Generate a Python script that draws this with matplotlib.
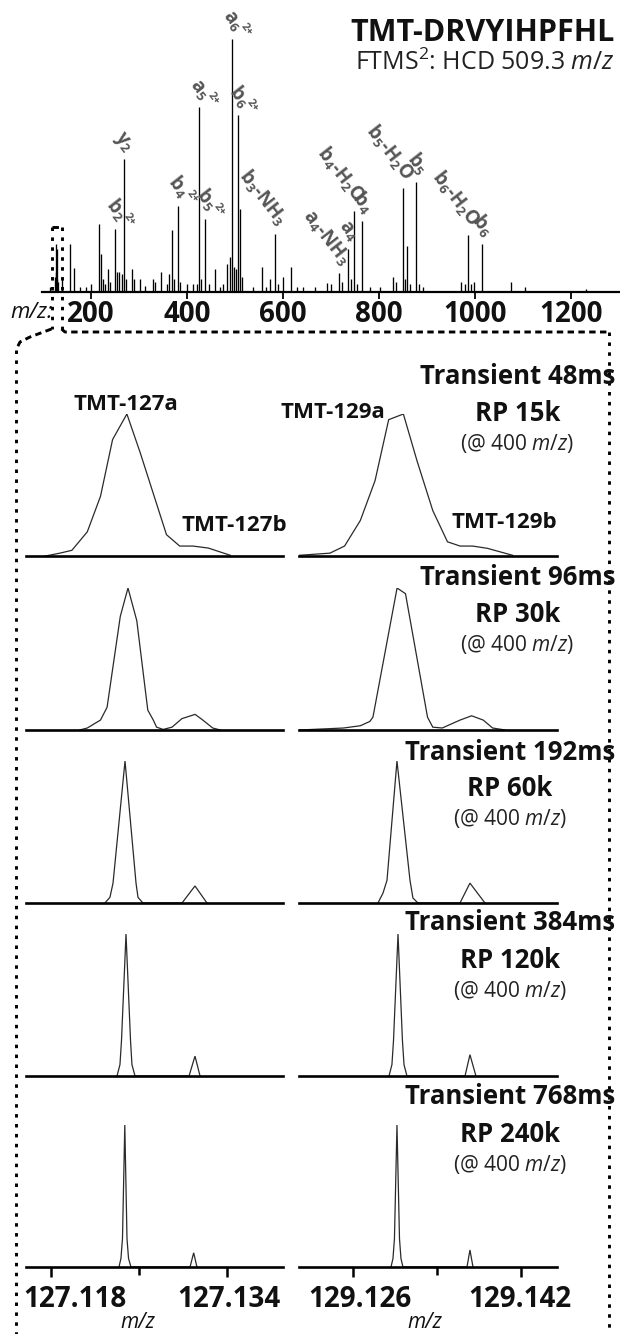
import matplotlib
matplotlib.use("Agg")
import matplotlib.pyplot as plt
from matplotlib import font_manager as fm

# ---------------- DATA ----------------
# Top MS2 spectrum (m/z, relative intensity %)
spec_mz = [115, 126.1, 127.1, 128.1, 129.1, 130.1, 131.1, 140, 156, 165, 178, 190, 201,
           217, 221, 226, 230, 235, 240, 251, 255, 259, 265, 269, 274, 285, 290, 302,
           313, 329, 333, 345, 358, 363, 368, 372, 381, 385, 399, 412, 420, 425, 429,
           438, 445, 458, 469, 474, 483, 490, 494, 498, 502, 507, 510, 514, 538, 556,
           564, 572, 583, 589, 601, 616, 629, 641, 667, 691, 701, 717, 722, 736, 742,
           747, 754, 764, 781, 802, 830, 835, 849, 854, 859, 865, 877, 884, 892, 970,
           979, 985, 991, 997, 1014, 1074, 1104, 1231]
spec_int = [2, 6, 19, 8, 17, 5, 4, 5, 19, 9.5, 2, 2, 3,
            27, 15, 5, 3, 9, 4, 25, 8, 8, 7, 52.6, 5, 9, 5, 5,
            2.5, 5, 4, 8, 3, 7, 24.5, 5, 34, 4, 3, 3, 3, 73, 5,
            29, 3, 9, 2, 3, 11, 14, 100, 10, 9, 70, 33, 6, 2, 10,
            2, 5, 23, 3, 6, 10, 2, 2, 2, 3.5, 3, 7.5, 4, 17, 5,
            32, 3, 28, 2, 2, 6, 4, 41, 5, 18, 3, 43.5, 3, 2, 4,
            3, 22.5, 3, 4, 19, 4, 2, 1]

frag_main = ["b$_2$", "y$_2$", "b$_4$", "a$_5$", "b$_5$", "a$_6$", "b$_6$", "b$_3$-NH$_3$",
             "a$_4$-NH$_3$", "a$_4$", "b$_4$-H$_2$O", "b$_4$", "b$_5$-H$_2$O", "b$_5$",
             "b$_6$-H$_2$O", "b$_6$"]
frag_charge = ["2+", "", "2+", "2+", "2+", "2+", "2+", "", "", "", "", "", "", "", "", ""]
frag_mz = [251, 269, 381, 425, 438, 494, 507, 583, 717, 736, 747, 764, 849, 877, 985, 1014]

top_ticks = [200, 400, 600, 800, 1000, 1200]

# Zoomed reporter-ion profiles (m/z, relative intensity %)
mz127_48 = [127.1175, 127.1188, 127.1199, 127.1213, 127.1225, 127.1236, 127.1249, 127.1261,
            127.1273, 127.1285, 127.1297, 127.1309, 127.1323, 127.1343]
in127_48 = [0, 2, 4, 17, 42, 82, 100, 73, 44, 15, 7, 7, 5.6, 0.5]
mz129_48 = [129.1209, 129.1238, 129.1252, 129.1267, 129.1281, 129.1294, 129.1308, 129.1321,
            129.1336, 129.1350, 129.1362, 129.1374, 129.1388, 129.1412]
in129_48 = [0.5, 2, 7, 25, 53, 96, 100, 67, 32, 10, 7, 7, 5.4, 0.5]

mz127_96 = [127.1206, 127.1213, 127.1225, 127.1231, 127.1243, 127.1250, 127.1258, 127.1268,
            127.1273, 127.1276, 127.1282, 127.1290, 127.1299, 127.1311, 127.1318, 127.1327,
            127.1334]
in127_96 = [0, 1.4, 7, 16, 80, 100, 77, 14, 7, 2, 0.4, 2, 8, 11, 7, 1.4, 0]
mz129_96 = [129.1209, 129.1251, 129.1267, 129.1276, 129.1279, 129.1302, 129.1310, 129.1331,
            129.1336, 129.1345, 129.1362, 129.1373, 129.1384, 129.1393, 129.1405]
in129_96 = [0, 1.4, 3, 6, 9, 100, 96, 9, 2, 1.4, 7, 10, 7, 1.4, 0]

mz127_192 = [127.1229, 127.12336, 127.12364, 127.12473, 127.12573, 127.12591, 127.12636,
             127.12991, 127.13109, 127.13218]
in127_192 = [0, 4, 14, 100, 14, 4, 0, 0, 12, 0]
mz129_192 = [129.12838, 129.12886, 129.12924, 129.13019, 129.13143, 129.13171, 129.13219,
             129.13619, 129.13714, 129.13857]
in129_192 = [0, 7, 16, 100, 16, 3.5, 0, 0, 14, 0]

mz127_384 = [127.12400, 127.12427, 127.12441, 127.12482, 127.12523, 127.12536, 127.12564,
             127.13055, 127.13109, 127.13155]
in127_384 = [0, 8, 25, 100, 25, 8, 0, 0, 14, 0]
mz129_384 = [129.12943, 129.12971, 129.12986, 129.13029, 129.13071, 129.13086, 129.13114,
             129.13667, 129.13714, 129.13771]
in129_384 = [0, 8, 25, 100, 25, 8, 0, 0, 15, 0]

mz127_768 = [127.12418, 127.12436, 127.12450, 127.12471, 127.12491, 127.12505, 127.12527,
             127.13064, 127.13097, 127.13127]
in127_768 = [0, 6, 20, 100, 20, 6, 0, 0, 10, 0]
mz129_768 = [129.12962, 129.12981, 129.12995, 129.13019, 129.13043, 129.13057, 129.13076,
             129.13686, 129.13714, 129.13743]
in129_768 = [0, 6, 20, 100, 20, 6, 0, 0, 12, 0]

transient_labels = ["Transient 48ms", "Transient 96ms", "Transient 192ms",
                    "Transient 384ms", "Transient 768ms"]
rp_labels = ["RP 15k", "RP 30k", "RP 60k", "RP 120k", "RP 240k"]

ticks127 = [127.118, 127.126, 127.134]
ticks129 = [129.126, 129.134, 129.142]
ticklab127 = ["127.118", "", "127.134"]
ticklab129 = ["129.126", "", "129.142"]

# ---------------- FONTS ----------------
def _w(f):
    w = f.weight
    if isinstance(w, str):
        w = fm.weight_dict.get(w, 400)
    return w

def has(name, weight, style="normal"):
    for f in fm.fontManager.ttflist:
        if f.name == name and f.style == style and abs(_w(f) - weight) < 100:
            return True
    return False

FAM = "Open Sans" if (has("Open Sans", 400) and has("Open Sans", 700)) else "Noto Sans"
ITF = next((n for n in ["Open Sans", "Noto Sans", "Lato", "Liberation Sans", "DejaVu Sans"]
            if has(n, 400, "italic")), "DejaVu Sans")

plt.rcParams["font.family"] = [FAM, "DejaVu Sans"]
plt.rcParams["mathtext.fontset"] = "custom"
plt.rcParams["mathtext.rm"] = FAM
plt.rcParams["mathtext.it"] = ITF + ":italic"
plt.rcParams["mathtext.bf"] = FAM + ":bold"
plt.rcParams["mathtext.default"] = "regular"

W, H = 620, 1334
fig = plt.figure(figsize=(W / 100, H / 100), dpi=100)
fig.patch.set_facecolor("white")


def fx(x):
    return x / W


def fy(y):
    return 1 - y / H


def ftext(x, y, s, **kw):
    return fig.text(fx(x), fy(y), s, **kw)


INK = "#111111"
LABC = "#555555"
ROT = -52

# ---------------- TOP SPECTRUM ----------------
ax = fig.add_axes([fx(42), fy(292), fx(620) - fx(42), fy(39) - fy(292)])
ax.vlines(spec_mz, 0, spec_int, color="black", lw=0.95)
ax.set_xlim(98, 1302)
ax.set_ylim(0, 100)
for s in ["left", "right", "top"]:
    ax.spines[s].set_visible(False)
ax.spines["bottom"].set_linewidth(1.6)
ax.set_yticks([])
ax.set_xticks(top_ticks)
ax.set_xticklabels([str(t) for t in top_ticks], fontsize=20, fontweight="bold", color=INK)
ax.tick_params(axis="x", direction="out", length=5, width=1.3, pad=1)
ax.patch.set_alpha(0)

lookup = dict(zip(spec_mz, spec_int))
for lab, ch, m in zip(frag_main, frag_charge, frag_mz):
    ax.annotate(lab, xy=(m, lookup[m]), xytext=(2, 5), textcoords="offset points",
                rotation=ROT, rotation_mode="anchor", ha="right", va="baseline",
                fontsize=13.5, fontweight="bold", color=LABC, annotation_clip=False)
    if ch:
        ax.annotate(ch, xy=(m, lookup[m]), xytext=(6, 9), textcoords="offset points",
                    rotation=ROT, rotation_mode="anchor", ha="left", va="baseline",
                    fontsize=8, fontweight="bold", color=LABC, annotation_clip=False)

ftext(615, 33, "TMT-DRVYIHPFHL", fontsize=22, fontweight="bold", ha="right", va="center",
      color=INK)
ftext(615, 63, r"FTMS$^2$: HCD 509.3 $\mathit{m/z}$", fontsize=18, ha="right", va="center",
      color="#222222")
ftext(53, 312, "m/z:", fontsize=16, fontstyle="italic", family=[ITF, "DejaVu Sans"],
      ha="right", va="center", color=INK)

# ---------------- DASHED CONNECTOR BOX ----------------
ov = fig.add_axes([0, 0, 1, 1])
ov.set_xlim(0, W)
ov.set_ylim(H, 0)
ov.axis("off")
vstyle = dict(color="black", lw=2.1, dashes=(1.2, 2.2), dash_capstyle="butt")
hstyle = dict(color="black", lw=2.1, dashes=(2.2, 1.5), dash_capstyle="butt")
ov.plot([51.5, 51.5], [227, 329], **vstyle)
ov.plot([51.5, 30, 20, 16], [329, 337, 342, 350], **hstyle)
ov.plot([16, 16], [350, 1334], **vstyle)
ov.plot([61.5, 61.5], [227, 329], **vstyle)
ov.plot([61.5, 65, 609], [329, 332, 332], **hstyle)
ov.plot([609, 609], [332, 1334], **vstyle)
ov.plot([51.5, 61.5], [227, 227], **hstyle)

# ---------------- ZOOMED PANELS ----------------
rows_127 = [(mz127_48, in127_48), (mz127_96, in127_96), (mz127_192, in127_192),
            (mz127_384, in127_384), (mz127_768, in127_768)]
rows_129 = [(mz129_48, in129_48), (mz129_96, in129_96), (mz129_192, in129_192),
            (mz129_384, in129_384), (mz129_768, in129_768)]
baselines = [556, 730, 903, 1076, 1267]
peak_h = 142
left_px = (26, 283)
right_px = (299, 557)
xlim127 = (127.11573, 127.13909)
xlim129 = (129.12086, 129.14543)

bottom_axes = []
for i in range(5):
    for (x0, x1), (mz, inten), xl in [(left_px, rows_127[i], xlim127),
                                       (right_px, rows_129[i], xlim129)]:
        a = fig.add_axes([fx(x0), fy(baselines[i]), fx(x1) - fx(x0),
                          fy(baselines[i] - peak_h) - fy(baselines[i])])
        a.plot(mz, inten, color="#2a2a2a", lw=0.9, solid_joinstyle="miter")
        a.set_xlim(*xl)
        a.set_ylim(0, 100)
        a.patch.set_alpha(0)
        for s in ["left", "right", "top"]:
            a.spines[s].set_visible(False)
        a.spines["bottom"].set_linewidth(1.9)
        a.set_yticks([])
        a.set_xticks([])
        bottom_axes.append(a)

# tick marks and labels on the bottom row
label_dx = [24, 2, 7, -1]  # px shift of labels
for k, (a, tks, tl) in enumerate([(bottom_axes[8], ticks127, ticklab127),
                                  (bottom_axes[9], ticks129, ticklab129)]):
    a.set_xticks([tks[0], tks[2]])
    a.set_xticks([tks[1]], minor=True)
    a.set_xticklabels([])
    a.tick_params(axis="x", which="major", direction="out", length=7, width=1.8)
    a.tick_params(axis="x", which="minor", direction="out", length=5.5, width=1.8)
    for j, idx in enumerate([0, 2]):
        a.annotate(tl[idx], xy=(tks[idx], 0), xycoords=("data", "axes fraction"),
                   xytext=(label_dx[2 * k + j] * 0.72, -13), textcoords="offset points",
                   ha="center", va="top", fontsize=20, fontweight="bold", color=INK,
                   annotation_clip=False)

ftext(138, 1323, "m/z", fontsize=15, fontstyle="italic", family=[ITF, "DejaVu Sans"],
      ha="center", va="center", color=INK)
ftext(425, 1323, "m/z", fontsize=15, fontstyle="italic", family=[ITF, "DejaVu Sans"],
      ha="center", va="center", color=INK)

# peak labels in the first row
ftext(126, 405, "TMT-127a", fontsize=16, fontweight="bold", ha="center", va="center", color=INK)
ftext(234, 525, "TMT-127b", fontsize=16, fontweight="bold", ha="center", va="center", color=INK)
ftext(333, 412, "TMT-129a", fontsize=16, fontweight="bold", ha="center", va="center", color=INK)
ftext(504, 522, "TMT-129b", fontsize=16, fontweight="bold", ha="center", va="center", color=INK)

# row texts
trans_y = [376, 577, 752, 923, 1097]
fig.canvas.draw()
renderer = fig.canvas.get_renderer()
for i in range(5):
    t = ftext(615, trans_y[i], transient_labels[i], fontsize=18.5, fontweight="bold",
              ha="right", va="center", color=INK)
    bb = t.get_window_extent(renderer)
    cx = (bb.x0 + bb.x1) / 2 / fig.bbox.width * W
    ftext(cx, trans_y[i] + 37, rp_labels[i], fontsize=18.5, fontweight="bold",
          ha="center", va="center", color=INK)
    ftext(cx, trans_y[i] + 67, r"(@ 400 $\mathit{m/z}$)", fontsize=15, ha="center",
          va="center", color="#222222")

fig.savefig("out.png", dpi=100, facecolor="white")
